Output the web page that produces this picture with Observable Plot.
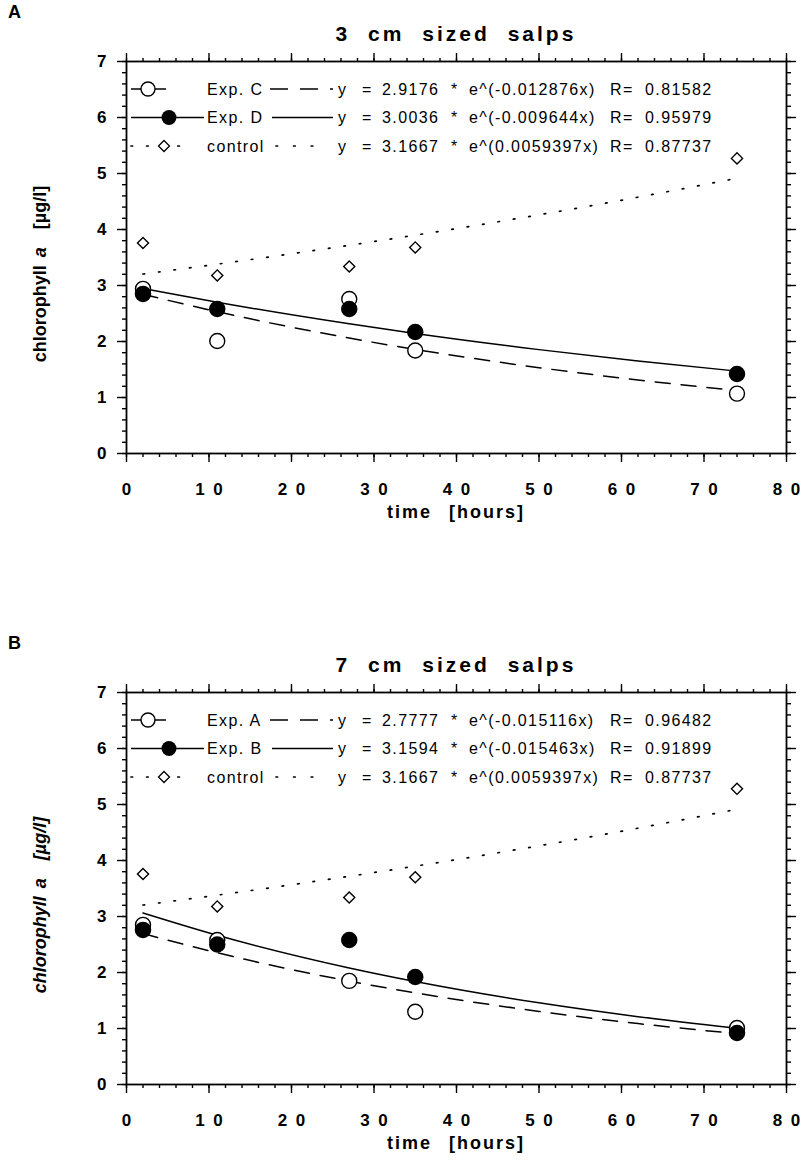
<!DOCTYPE html>
<html><head><meta charset="utf-8">
<script src="https://cdn.jsdelivr.net/npm/d3@7"></script>
<script src="https://cdn.jsdelivr.net/npm/@observablehq/plot@0.6"></script>
<style>
body{margin:0;background:#fff;}
#root{position:relative;width:802px;height:1160px;font-family:"Liberation Sans",Arial,Helvetica,sans-serif;color:#000;background:#fff;overflow:hidden;}
.panel{position:absolute;left:0;}
.letter{position:absolute;left:8px;font-weight:bold;font-size:18px;line-height:18px;}
.title{position:absolute;left:126px;width:660px;text-align:center;font-weight:bold;font-size:21px;line-height:21px;letter-spacing:3px;word-spacing:9px;}
.xlab{position:absolute;left:126px;width:660px;text-align:center;font-weight:bold;font-size:18px;line-height:18px;letter-spacing:2px;word-spacing:10px;}
.ylab{position:absolute;white-space:nowrap;font-weight:bold;font-size:18px;line-height:18px;transform:translate(-50%,-50%) rotate(-90deg);}
</style>
</head><body>
<div id="root"></div>
<script>
// ---- data ----
const times = [2, 11, 27, 35, 74];
// Panel A (3 cm salps)
const expC = [2.94, 2.01, 2.76, 1.84, 1.07];
const expD = [2.85, 2.58, 2.58, 2.17, 1.42];
const controlA = [3.76, 3.18, 3.34, 3.68, 5.27];
// Panel B (7 cm salps)
const expA = [2.85, 2.58, 1.85, 1.30, 1.01];
const expB = [2.76, 2.50, 2.58, 1.92, 0.92];
const controlB = [3.76, 3.18, 3.34, 3.70, 5.28];
// fitted curves read along the time axis
const fitTimes = [2, 11, 27, 35, 50, 62, 74];
const fitC = [2.843, 2.532, 2.061, 1.859, 1.533, 1.313, 1.125];
const fitD = [2.946, 2.701, 2.315, 2.143, 1.855, 1.652, 1.471];
const fitA = [2.695, 2.352, 1.847, 1.637, 1.305, 1.088, 0.908];
const fitB = [3.063, 2.665, 2.081, 1.839, 1.458, 1.211, 1.006];
const fitCtrl = [3.205, 3.381, 3.718, 3.899, 4.262, 4.577, 4.915];
// legend texts
const legNamesA = ["Exp. C", "Exp. D", "control"];
const legNamesB = ["Exp. A", "Exp. B", "control"];
const legCoefA = ["2.9176", "3.0036", "3.1667"];
const legCoefB = ["2.7777", "3.1594", "3.1667"];
const legExpA = ["e^(-0.012876x)", "e^(-0.009644x)", "e^(0.0059397x)"];
const legExpB = ["e^(-0.015116x)", "e^(-0.015463x)", "e^(0.0059397x)"];
const legRA = ["0.81582", "0.95979", "0.87737"];
const legRB = ["0.96482", "0.91899", "0.87737"];
const xMajor = [0, 10, 20, 30, 40, 50, 60, 70, 80];
const yMajor = [0, 1, 2, 3, 4, 5, 6, 7];
const titles = ["3 cm sized salps", "7 cm sized salps"];
const letters = ["A", "B"];

const rows = (xs, ys) => xs.map((t, i) => ({t, v: ys[i]}));
const xMinor = d3.range(0, 81, 2);
const yMinor = d3.range(0, 36).map(i => i / 5);

function panel(top, cfg) {
  const axisStyle = {strokeWidth: 1.4, label: null};
  const svg = Plot.plot({
    width: 802, height: 530,
    marginLeft: 126, marginRight: 16, marginTop: 61, marginBottom: 77,
    x: {domain: [0, 80], axis: null},
    y: {domain: [0, 7], axis: null},
    style: {fontFamily: '"Liberation Sans", Arial, sans-serif', fontSize: "17px", fontWeight: "bold", color: "black", background: "transparent", overflow: "visible"},
    marks: [
      Plot.axisX({anchor: "bottom", ticks: xMinor, tickSize: 4, fill: "none", ...axisStyle}),
      Plot.axisX({anchor: "top", ticks: xMinor, tickSize: 4, fill: "none", ...axisStyle}),
      Plot.axisX({anchor: "bottom", ticks: xMajor, tickSize: 9, tickPadding: 20, tickFormat: d => String(d).split("").join("\u2002"), ...axisStyle}),
      Plot.axisX({anchor: "top", ticks: xMajor, tickSize: 9, fill: "none", ...axisStyle}),
      Plot.axisY({anchor: "left", ticks: yMinor, tickSize: 4, fill: "none", ...axisStyle}),
      Plot.axisY({anchor: "right", ticks: yMinor, tickSize: 4, fill: "none", ...axisStyle}),
      Plot.axisY({anchor: "left", ticks: yMajor, tickSize: 9, tickPadding: 11, tickFormat: d => String(d), ...axisStyle}),
      Plot.axisY({anchor: "right", ticks: yMajor, tickSize: 9, fill: "none", ...axisStyle}),
      Plot.frame({strokeWidth: 1.8}),
      Plot.line(rows(fitTimes, cfg.fitCtrl), {x: "t", y: "v", curve: "monotone-x", strokeWidth: 1.7, strokeDasharray: "1.6,14", strokeLinecap: "round"}),
      Plot.line(rows(fitTimes, cfg.fitOpen), {x: "t", y: "v", curve: "monotone-x", strokeWidth: 1.5, strokeDasharray: "15,11"}),
      Plot.line(rows(fitTimes, cfg.fitFilled), {x: "t", y: "v", curve: "monotone-x", strokeWidth: 1.5}),
      Plot.dot(rows(times, cfg.ctrl), {x: "t", y: "v", symbol: "diamond2", r: 5, fill: "white", stroke: "black", strokeWidth: 1.4}),
      Plot.dot(rows(times, cfg.open), {x: "t", y: "v", r: 7.5, fill: "white", stroke: "black", strokeWidth: 1.4}),
      Plot.dot(rows(times, cfg.filled), {x: "t", y: "v", r: 7.5, fill: "black", stroke: "black"})
    ]
  });
  svg.classList.add("panel");
  svg.style.top = top + "px";
  // legend
  const g = d3.select(svg).append("g")
    .attr("font-family", '"Liberation Sans", Arial, sans-serif')
    .attr("font-size", 16).attr("font-weight", "normal")
    .attr("letter-spacing", "1.4px")
    .attr("text-anchor", "start").attr("fill", "black");
  const ys = [89, 117.5, 146];
  cfg.names.forEach((name, i) => {
    const y = ys[i];
    if (i === 0) {
      g.append("line").attr("x1", 131).attr("x2", 166).attr("y1", y).attr("y2", y).attr("stroke", "black").attr("stroke-width", 1.3);
      g.append("circle").attr("cx", 148).attr("cy", y).attr("r", 7).attr("fill", "white").attr("stroke", "black").attr("stroke-width", 1.4);
      g.append("line").attr("x1", 270).attr("x2", 333).attr("y1", y).attr("y2", y).attr("stroke", "black").attr("stroke-width", 1.5).attr("stroke-dasharray", "18,12");
    } else if (i === 1) {
      g.append("line").attr("x1", 131).attr("x2", 204).attr("y1", y).attr("y2", y).attr("stroke", "black").attr("stroke-width", 1.3);
      g.append("circle").attr("cx", 169).attr("cy", y).attr("r", 7.5).attr("fill", "black");
      g.append("line").attr("x1", 272).attr("x2", 333).attr("y1", y).attr("y2", y).attr("stroke", "black").attr("stroke-width", 1.5);
    } else {
      g.append("line").attr("x1", 131).attr("x2", 186).attr("y1", y).attr("y2", y).attr("stroke", "black").attr("stroke-width", 1.7).attr("stroke-dasharray", "1.6,14").attr("stroke-linecap", "round");
      g.append("path").attr("d", `M164,${y - 5.5}L169.5,${y}L164,${y + 5.5}L158.5,${y}Z`).attr("fill", "white").attr("stroke", "black").attr("stroke-width", 1.3);
      g.append("line").attr("x1", 276).attr("x2", 326).attr("y1", y).attr("y2", y).attr("stroke", "black").attr("stroke-width", 1.7).attr("stroke-dasharray", "1.6,16").attr("stroke-linecap", "round");
    }
    const t = (x, s) => g.append("text").attr("x", x).attr("y", y).attr("dy", "0.36em").text(s);
    t(207, name);
    t(338, "y");
    t(362, "=");
    t(382, cfg.coef[i]);
    t(451, "*");
    t(469, cfg.exp[i]);
    t(610, "R=");
    t(645, cfg.r[i]);
  });
  return svg;
}

const root = document.getElementById("root");
const cfgs = [
  {ctrl: controlA, open: expC, filled: expD, fitCtrl, fitOpen: fitC, fitFilled: fitD, names: legNamesA, coef: legCoefA, exp: legExpA, r: legRA},
  {ctrl: controlB, open: expA, filled: expB, fitCtrl, fitOpen: fitA, fitFilled: fitB, names: legNamesB, coef: legCoefB, exp: legExpB, r: legRB}
];
const tops = [0, 631];
cfgs.forEach((cfg, k) => {
  const top = tops[k];
  root.appendChild(panel(top, cfg));
  const L = document.createElement("div");
  L.className = "letter"; L.style.top = (top + 3) + "px"; L.textContent = letters[k];
  root.appendChild(L);
  const T = document.createElement("div");
  T.className = "title"; T.style.top = (top + 23) + "px"; T.textContent = titles[k];
  root.appendChild(T);
  const X = document.createElement("div");
  X.className = "xlab"; X.style.top = (top + 503) + "px"; X.textContent = "time [hours]";
  root.appendChild(X);
  const Y = document.createElement("div");
  Y.className = "ylab"; Y.style.left = "40px"; Y.style.top = (top + 274) + "px";
  if (k === 1) Y.style.fontStyle = "italic";
  Y.innerHTML = 'chlorophyll<span style="display:inline-block;width:8px"></span><i>a</i><span style="display:inline-block;width:18px"></span>[µg/l]';
  root.appendChild(Y);
});
</script>
</body></html>
